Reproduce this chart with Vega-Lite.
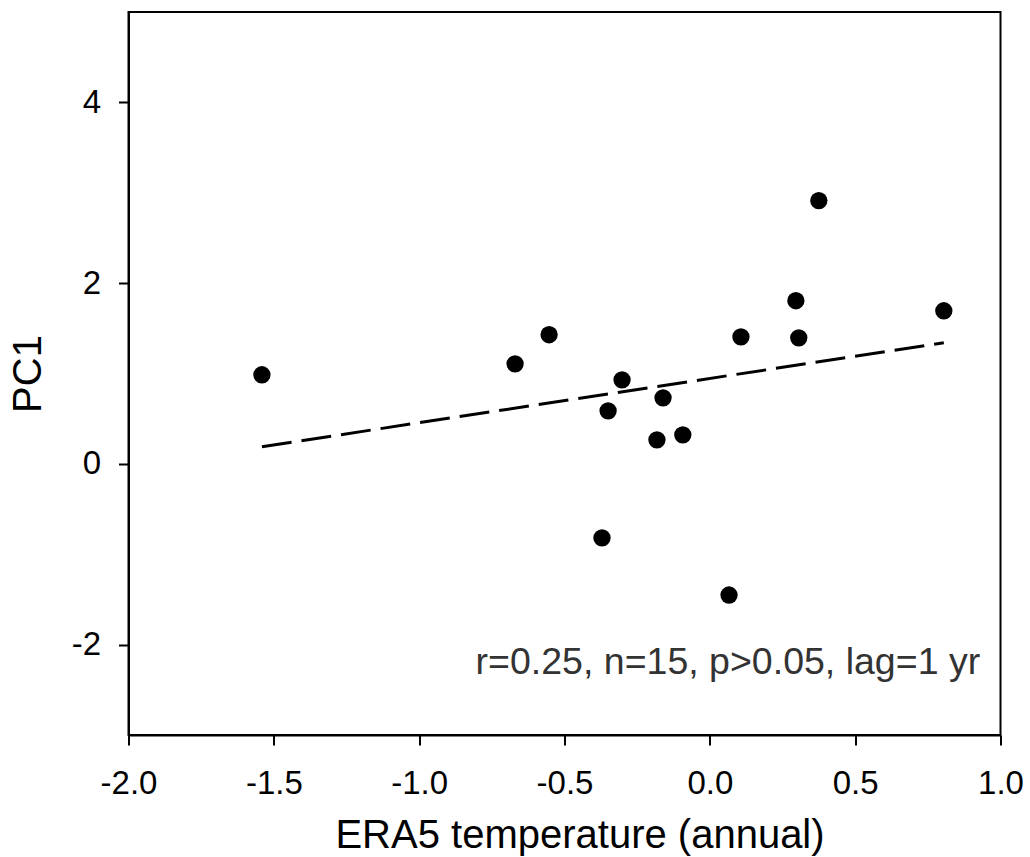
{
  "$schema": "https://vega.github.io/schema/vega-lite/v6.json",
  "width": 872,
  "height": 723,
  "autosize": "none",
  "padding": {"left": 128.5, "top": 12, "right": 29.5, "bottom": 122},
  "background": "white",
  "config": {
    "font": "Liberation Sans",
    "view": {"stroke": "black", "strokeWidth": 2},
    "axis": {
      "grid": false,
      "domainColor": "black",
      "domainWidth": 2,
      "tickColor": "black",
      "tickWidth": 2,
      "tickSize": 10,
      "labelColor": "black",
      "labelFontSize": 33,
      "labelFont": "Liberation Sans",
      "titleFont": "Liberation Sans",
      "titleFontSize": 40,
      "titleFontWeight": "normal",
      "titleColor": "black"
    }
  },
  "datasets": {
    "points": [
      {"temp": -1.541, "pc1": 0.986},
      {"temp": -0.670, "pc1": 1.107},
      {"temp": -0.553, "pc1": 1.429},
      {"temp": -0.302, "pc1": 0.930},
      {"temp": -0.350, "pc1": 0.587},
      {"temp": -0.161, "pc1": 0.731},
      {"temp": -0.182, "pc1": 0.266},
      {"temp": -0.093, "pc1": 0.321},
      {"temp": -0.371, "pc1": -0.819},
      {"temp": 0.066, "pc1": -1.451},
      {"temp": 0.107, "pc1": 1.406},
      {"temp": 0.296, "pc1": 1.805},
      {"temp": 0.306, "pc1": 1.395},
      {"temp": 0.375, "pc1": 2.913},
      {"temp": 0.805, "pc1": 1.694}
    ],
    "fit": [
      {"temp": -1.541, "pc1": 0.19},
      {"temp": 0.805, "pc1": 1.34}
    ],
    "note": [
      {"temp": 0.93, "pc1": -2.32, "label": "r=0.25, n=15, p>0.05, lag=1 yr"}
    ]
  },
  "layer": [
    {
      "data": {"name": "fit"},
      "mark": {"type": "line", "color": "black", "strokeWidth": 3, "strokeDash": [30, 10], "clip": true},
      "encoding": {
        "x": {
          "field": "temp", "type": "quantitative",
          "scale": {"domain": [-2, 1], "nice": false, "zero": false},
          "axis": {
            "title": "ERA5 temperature (annual)",
            "values": [-2, -1.5, -1, -0.5, 0, 0.5, 1],
            "labelExpr": "datum.value < 0 ? '-' + format(-datum.value, '.1f') : format(datum.value, '.1f')",
            "labelPadding": 22,
            "titlePadding": 15,
            "titleX": 451,
            "titleAlign": "center",
            "labelFlush": false,
            "labelOverlap": false
          }
        },
        "y": {
          "field": "pc1", "type": "quantitative",
          "scale": {"domain": [-3, 5], "nice": false, "zero": false},
          "axis": {
            "title": "PC1",
            "values": [-2, 0, 2, 4],
            "labelExpr": "datum.value < 0 ? '-' + format(-datum.value, 'd') : format(datum.value, 'd')",
            "labelPadding": 18,
            "titlePadding": 23,
            "labelFlush": false,
            "labelOverlap": false
          }
        }
      }
    },
    {
      "data": {"name": "points"},
      "mark": {"type": "circle", "color": "black", "opacity": 1, "size": 300},
      "encoding": {
        "x": {"field": "temp", "type": "quantitative"},
        "y": {"field": "pc1", "type": "quantitative"}
      }
    },
    {
      "data": {"name": "note"},
      "mark": {"type": "text", "align": "right", "baseline": "alphabetic", "fontSize": 37.5, "color": "#333333", "font": "Liberation Sans"},
      "encoding": {
        "x": {"field": "temp", "type": "quantitative"},
        "y": {"field": "pc1", "type": "quantitative"},
        "text": {"field": "label"}
      }
    }
  ]
}
